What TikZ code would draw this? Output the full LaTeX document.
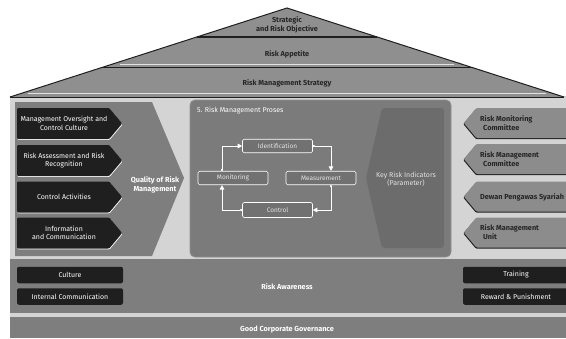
\documentclass[tikz,border=0pt]{standalone}
\usepackage{fontspec}
\setmainfont{Fira Sans}
\usetikzlibrary{arrows.meta,calc,shapes.symbols,shadows}

\definecolor{bglight}{HTML}{D4D4D4}
\definecolor{midgray}{HTML}{7E7E7E}
\definecolor{roofgray}{HTML}{8F8F8F}
\definecolor{procgray}{HTML}{7B7B7B}
\definecolor{krigray}{HTML}{6C6C6C}
\definecolor{cyclegray}{HTML}{717171}
\definecolor{rboxgray}{HTML}{8C8C8C}
\definecolor{boxblack}{HTML}{1F1F1F}
\definecolor{darktext}{HTML}{262626}
\definecolor{edgelight}{HTML}{E2E2E2}

\tikzset{
  small/.style={font=\fontsize{7}{8.4}\selectfont},
  smallbold/.style={font=\fontsize{7.3}{9}\selectfont\bfseries},
  lbox/.style={shape=signal, signal to=east, signal pointer angle=100,
    fill=boxblack, minimum width=105pt, minimum height=31pt, inner sep=0pt,
    anchor=west, rounded corners=1pt,
    general shadow={fill=white, shadow yshift=-0.9pt, shadow xshift=0.4pt}},
  ltext/.style={small, text=white, align=center},
  rbox/.style={shape=signal, signal to=west, signal pointer angle=100,
    fill=rboxgray, minimum width=104pt, minimum height=30pt, inner sep=0pt,
    anchor=east, rounded corners=1pt,
    general shadow={fill=boxblack, shadow yshift=-1.1pt, shadow xshift=-0.5pt}},
  rtext/.style={smallbold, text=darktext, align=left, anchor=west, inner sep=0pt},
  roofText/.style={smallbold, text=darktext, align=center},
  cyclebox/.style={draw=white, line width=0.6pt, fill=cyclegray, rounded corners=1.5pt,
    minimum width=70pt, minimum height=13.5pt, inner sep=0pt,
    font=\fontsize{6.5}{8}\selectfont, text=edgelight},
  cyclearrow/.style={draw=white, line width=0.7pt,
    {Circle[length=2.2pt]}-{Triangle[length=4.5pt,width=4.5pt]}},
  bbox/.style={fill=boxblack, rounded corners=2pt, minimum height=16.5pt,
    inner sep=0pt, small, text=white},
  bandText/.style={smallbold, text=white},
}

\begin{document}
\begin{tikzpicture}[x=1pt,y=-1pt]
\useasboundingbox (0,0) rectangle (566,338);
\fill[white] (0,0) rectangle (566,338);
\fill[bglight] (10,96) rectangle (566,338);

% roof with its three bands
\coordinate (apex) at (287,8);
\coordinate (roofL) at (10,97);
\coordinate (roofR) at (564,97);
\fill[roofgray] (apex) -- (roofL) -- (roofR) -- cycle;
\draw[edgelight, line width=0.6pt] ($(apex)!0.63!(roofL)+(8,0)$) -- ($(apex)!0.63!(roofR)+(-8,0)$);
\draw[boxblack, line width=1.6pt] ($(apex)!0.326!(roofL)$) -- ($(apex)!0.326!(roofR)$);
\draw[boxblack, line width=1.6pt] ($(apex)!0.67!(roofL)$) -- ($(apex)!0.67!(roofR)$);
\draw[edgelight, line width=0.6pt] ($(apex)!0.955!(roofL)+(6,0)$) -- ($(apex)!0.955!(roofR)+(-6,0)$);
\draw[boxblack, line width=1pt, line join=miter] (roofL) -- (apex) -- (roofR);
\draw[boxblack, line width=1pt] (roofL) -- (roofR);
\node[roofText] (objective) at (287,24.5) {Strategic\\and Risk Objective};
\node[roofText] (appetite) at (287,54) {Risk Appetite};
\node[roofText] (strategy) at (287,83) {Risk Management Strategy};

% left panel: quality of risk management
\fill[midgray] (15,102) -- (152,102) -- (184,178) -- (152,256) -- (15,256) -- cycle;
\node[lbox] (oversight) at (17,123.5) {};
\node[lbox] (assessment) at (17,160.5) {};
\node[lbox] (activities) at (17,197) {};
\node[lbox] (information) at (17,233) {};
\node[ltext] (oversightT) at (64,123.5) {Management Oversight and\\Control Culture};
\node[ltext] (assessmentT) at (64,160.5) {Risk Assessment and Risk\\Recognition};
\node[ltext] (activitiesT) at (64,197) {Control Activities};
\node[ltext] (informationT) at (64,233) {Information\\and Communication};
\node[bandText, align=center] (quality) at (155,185) {Quality of Risk\\Management};

% centre panel: risk management process
\node[fill=procgray, draw=roofgray, line width=0.8pt, rounded corners=5pt,
  minimum width=261pt, minimum height=157pt, inner sep=0pt] (proc) at (320.5,178.5) {};
\node[small, text=white, anchor=west, inner sep=0pt] (procTitle) at (197,111) {5. Risk Management Proses};
\fill[krigray, rounded corners=3pt] (382,108) -- (444,108) -- (444,248) -- (382,248) -- (366,178) -- cycle;
\node[small, text=edgelight, align=center] (kri) at (406,179) {Key Risk Indicators\\(Parameter)};

\node[cyclebox] (ident) at (277.5,146) {Identification};
\node[cyclebox] (monit) at (233,178) {Monitoring};
\node[cyclebox] (meas) at (321,178) {Measurement};
\node[cyclebox, minimum height=15pt] (ctrl) at (277.5,210) {Control};
\draw[cyclearrow] ([xshift=-11pt]monit.north) |- (ident.west);
\draw[cyclearrow] (ident.east) -| ([xshift=10pt]meas.north);
\draw[cyclearrow] ([xshift=10pt]meas.south) |- (ctrl.east);
\draw[cyclearrow] (ctrl.west) -| ([xshift=-11pt]monit.south);

% right panel: committees and units
\node[rbox] (rmc) at (568,123) {};
\node[rbox] (rmgc) at (568,159) {};
\node[rbox] (dps) at (568,196.5) {};
\node[rbox] (rmu) at (568,232.5) {};
\node[rtext] (rmcT) at (480,123.5) {Risk Monitoring\\\hspace*{3pt}Committee};
\node[rtext] (rmgcT) at (480,159.5) {Risk Management\\\hspace*{3pt}Committee};
\node[rtext] (dpsT) at (480,197) {Dewan Pengawas Syariah};
\node[rtext] (rmuT) at (480,232.5) {Risk Management\\\hspace*{3pt}Unit};

% risk awareness band
\fill[midgray] (10,259) rectangle (566,313);
\node[bbox, minimum width=106pt] (culture) at (70,275) {Culture};
\node[bbox, minimum width=106pt] (internal) at (70,296.5) {Internal Communication};
\node[bbox, minimum width=106pt] (training) at (516,275) {Training};
\node[bbox, minimum width=106pt] (reward) at (516,296.5) {Reward \& Punishment};
\node[bandText] (awareness) at (287,287) {Risk Awareness};

% good corporate governance band
\fill[midgray] (10,317) rectangle (566,338);
\node[bandText] (gcg) at (287,330) {Good Corporate Governance};
\end{tikzpicture}
\end{document}
